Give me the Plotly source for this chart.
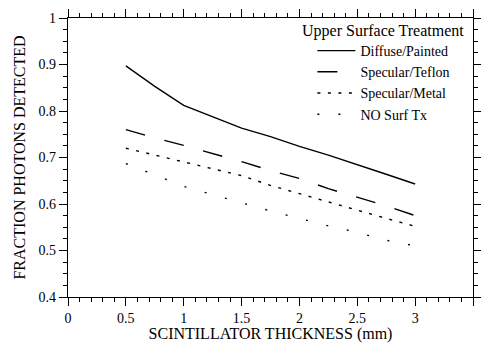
import plotly.graph_objects as go

thickness = [0.5, 0.75, 1.0, 1.25, 1.5, 1.75, 2.0, 2.25, 2.5, 2.75, 3.0]
diffuse_painted = [0.897, 0.853, 0.812, 0.787, 0.763, 0.745, 0.724, 0.705, 0.685, 0.664, 0.643]
specular_teflon = [0.760, 0.742, 0.726, 0.709, 0.691, 0.672, 0.655, 0.633, 0.615, 0.596, 0.575]
specular_metal = [0.720, 0.705, 0.690, 0.676, 0.661, 0.640, 0.622, 0.605, 0.587, 0.569, 0.552]
no_surf_tx = [0.687, 0.662, 0.638, 0.620, 0.602, 0.585, 0.569, 0.553, 0.539, 0.522, 0.510]

names = ["Diffuse/Painted", "Specular/Teflon", "Specular/Metal", "NO Surf Tx"]
series = [diffuse_painted, specular_teflon, specular_metal, no_surf_tx]
dashes = ["solid", "20px,20px", "3px,7.5px", "2px,19px"]

FONT = "Liberation Serif"

fig = go.Figure()
for n, s, d in zip(names, series, dashes):
    fig.add_trace(go.Scatter(x=thickness, y=s, mode="lines", name=n,
                             line=dict(color="black", width=1.4, dash=d)))

axis_common = dict(
    showline=True, linecolor="black", linewidth=1.3, mirror="ticks",
    ticks="outside", ticklen=8, tickwidth=1.2, tickcolor="black",
    showgrid=False, zeroline=False, automargin=False,
    tickfont=dict(family=FONT, size=14, color="black"),
)

fig.update_xaxes(range=[0, 3.5], dtick=0.5, tick0=0,
                 minor=dict(dtick=0.1, ticklen=4, tickwidth=1, tickcolor="black", ticks="outside"),
                 title=dict(text="SCINTILLATOR THICKNESS (mm)", font=dict(family=FONT, size=16, color="black"), standoff=1),
                 **axis_common)
fig.update_yaxes(range=[0.4, 1.0], dtick=0.1, tick0=0,
                 minor=dict(dtick=0.025, ticklen=4, tickwidth=1, tickcolor="black", ticks="outside"),
                 title=dict(text="FRACTION PHOTONS DETECTED", font=dict(family=FONT, size=16, color="black"), standoff=8),
                 **axis_common)

fig.add_annotation(text="Upper Surface Treatment", xref="paper", yref="paper",
                   x=(467 - 68) / 406, y=1 - (31 - 18) / 279, xanchor="right", yanchor="middle",
                   showarrow=False, font=dict(family=FONT, size=16, color="black"))

fig.update_layout(
    width=481, height=343,
    margin=dict(l=68, r=8, t=18, b=46, autoexpand=False),
    plot_bgcolor="white", paper_bgcolor="white",
    showlegend=True,
    legend=dict(x=(313 - 68) / 406, y=1 - (35 - 18) / 279, xanchor="left", yanchor="top",
                bgcolor="rgba(0,0,0,0)", font=dict(family=FONT, size=14, color="black"),
                itemwidth=38),
)

fig.write_html("out.html")
